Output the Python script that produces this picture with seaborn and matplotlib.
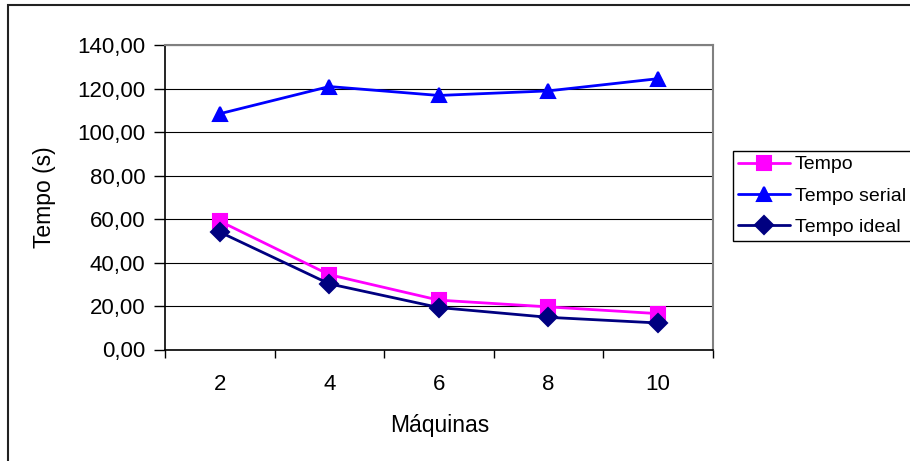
import matplotlib
matplotlib.use("Agg")
import matplotlib.pyplot as plt
from matplotlib.patches import Rectangle
from matplotlib.ticker import FuncFormatter, FixedLocator
import seaborn as sns
import pandas as pd

machines = ["2", "4", "6", "8", "10"]
tempo = [59.0, 34.4, 22.7, 19.6, 16.5]
tempo_serial = [108.4, 120.9, 116.8, 118.9, 124.5]
tempo_ideal = [54.0, 30.2, 19.3, 14.8, 12.2]
series_names = ["Tempo", "Tempo serial", "Tempo ideal"]
series_colors = ["#FF00FF", "#0000FF", "#000080"]
series_markers = ["s", "^", "D"]
y_ticks = [0, 20, 40, 60, 80, 100, 120, 140]

df = pd.DataFrame({
    "Máquinas": machines * 3,
    "Valor": tempo + tempo_serial + tempo_ideal,
    "Série": [n for n in series_names for _ in machines],
})

sns.set_theme(style="white")
plt.rcParams["font.family"] = ["Liberation Sans", "DejaVu Sans"]

W, H = 910, 461
fig = plt.figure(figsize=(W / 100, H / 100), dpi=100)
ax = fig.add_axes([165 / W, 1 - 349.5 / H, (712.5 - 165) / W, (349.5 - 45) / H])

sns.pointplot(data=df, x="Máquinas", y="Valor", hue="Série", order=machines,
              hue_order=series_names, palette=series_colors, markers=series_markers,
              linestyles="-", dodge=False, errorbar=None, markersize=9.5, linewidth=2,
              ax=ax)

ax.set_xlim(-0.5, len(machines) - 0.5)
ax.set_ylim(0, 140)
ax.yaxis.set_major_locator(FixedLocator(y_ticks))
ax.yaxis.set_major_formatter(FuncFormatter(lambda v, p: f"{v:.2f}".replace(".", ",")))
ax.grid(axis="y", color="black", linewidth=0.8)
ax.grid(axis="x", visible=False)
ax.set_axisbelow(True)

ax.xaxis.set_minor_locator(FixedLocator([i - 0.5 for i in range(len(machines) + 1)]))
ax.tick_params(axis="x", which="major", length=0, pad=18, labelsize=16, colors="black")
ax.tick_params(axis="x", which="minor", bottom=True, length=6, width=1, color="black", direction="out")
ax.tick_params(axis="y", which="major", left=True, length=8, width=1, color="black",
               direction="out", pad=6, labelsize=16, labelcolor="black")

for side in ["left", "bottom"]:
    ax.spines[side].set_color("black")
    ax.spines[side].set_linewidth(1.2)
for side in ["top", "right"]:
    ax.spines[side].set_color("#808080")
    ax.spines[side].set_linewidth(1.5)

ax.set_ylabel("Tempo (s)", fontsize=16.5, color="black")
ax.yaxis.set_label_coords(-0.20, 0.5)
ax.set_xlabel("Máquinas", fontsize=16.5, color="black")
ax.xaxis.set_label_coords(0.502, -0.212)

handles, labels = ax.get_legend_handles_labels()
if ax.get_legend() is not None:
    ax.get_legend().remove()
leg = fig.legend(handles, labels, loc="upper left",
                 bbox_to_anchor=(733 / W, 1 - 151 / H), bbox_transform=fig.transFigure,
                 frameon=True, fancybox=False, edgecolor="black", framealpha=1,
                 fontsize=14, handlelength=2.67, handletextpad=0.26, labelspacing=0.7,
                 borderpad=0.25, borderaxespad=0)
leg.get_frame().set_linewidth(1.0)
for t in leg.get_texts():
    t.set_color("black")

fig.add_artist(Rectangle((8 / W, -0.5), 2, 0.5 + (1 - 5 / H), transform=fig.transFigure,
                         fill=False, edgecolor="#222222", linewidth=1.5))

fig.savefig("out.png", dpi=100, facecolor="white")
